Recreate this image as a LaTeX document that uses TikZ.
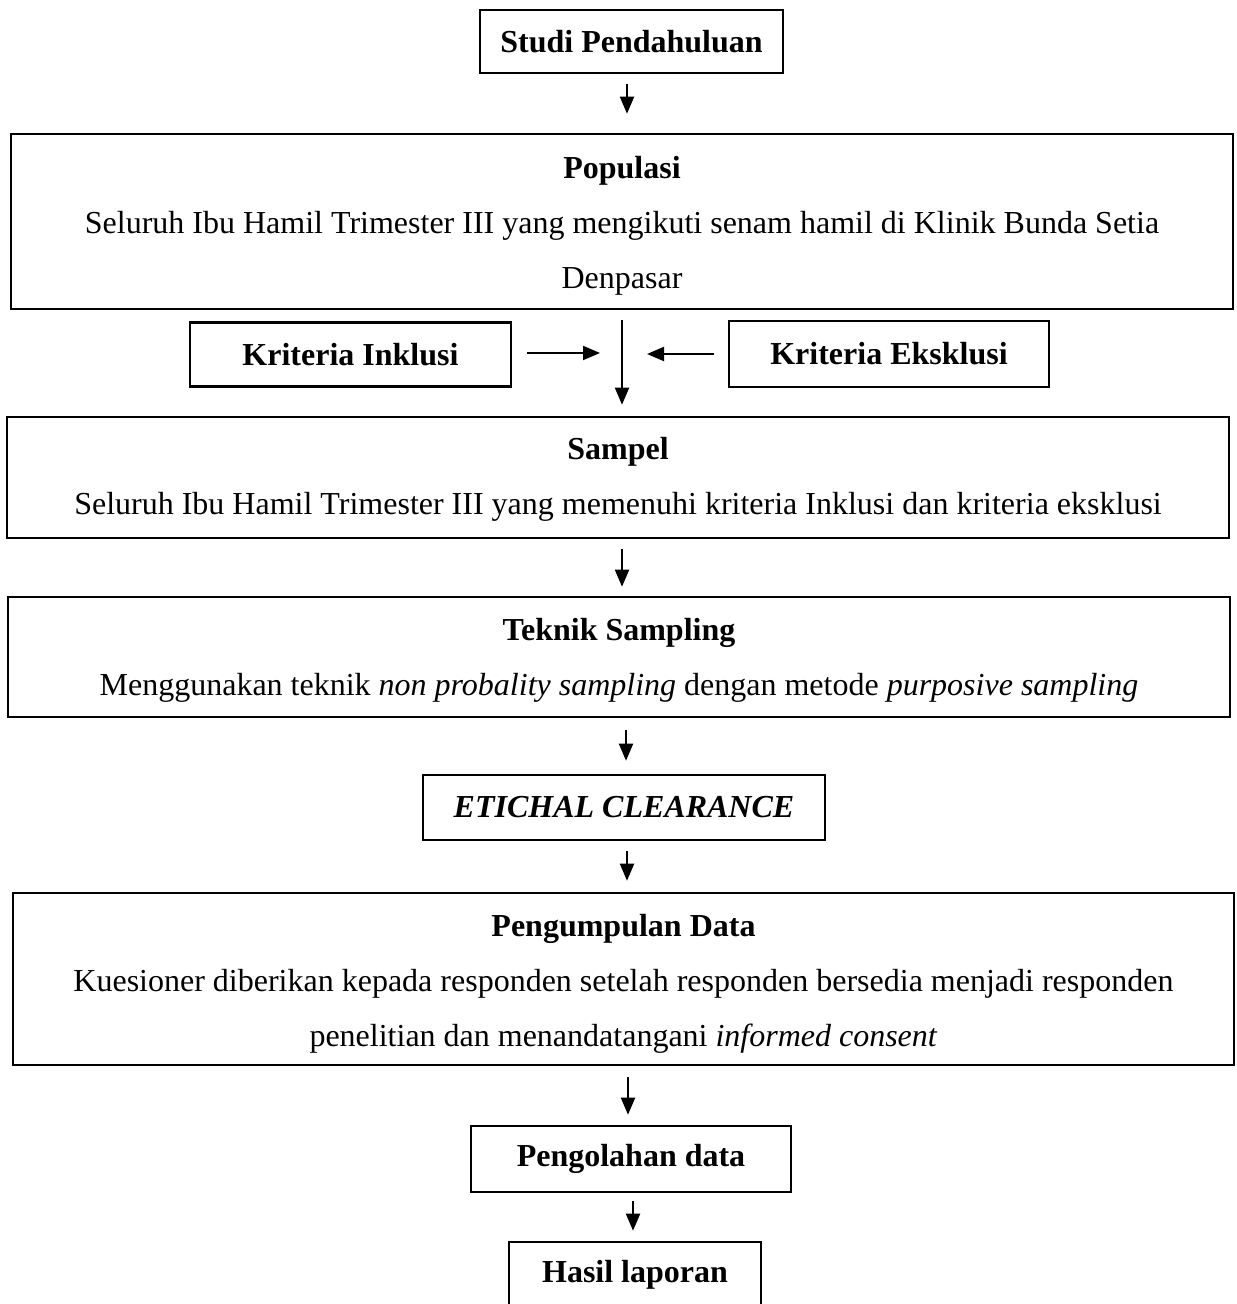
\documentclass[tikz,border=0pt]{standalone}
\usepackage{fontspec}
\setmainfont{Liberation Serif}
\usetikzlibrary{arrows.meta,positioning,calc}
\newcommand{\padtop}[1]{\rule{0pt}{#1}}

\begin{document}
\begin{tikzpicture}[x=0.5pt, y=-0.5pt,
  box/.style={draw, rectangle, line width=1.3pt, inner sep=0pt, align=center, font=\fontsize{16}{27.5}\selectfont},
  flow/.style={-{Triangle[length=8.5pt,width=7pt]}, line width=1pt, shorten <=5pt, shorten >=5pt}]
\useasboundingbox (0,0) rectangle (1236,1304);
% boxes
\node[box, minimum width=151.5pt, minimum height=31.5pt] (studi) at (631.5,41.5) {\textbf{Studi Pendahuluan}};
\node[box, minimum width=611pt, minimum height=87.5pt] (populasi) at (622,221.5) {\padtop{15.5pt}\textbf{Populasi}\\Seluruh Ibu Hamil Trimester III yang mengikuti senam hamil di Klinik Bunda Setia\\Denpasar};
\node[box, minimum width=160.5pt, minimum height=32pt] (inklusi) at (350.5,354.5) {\textbf{Kriteria Inklusi}};
\node[box, minimum width=160pt, minimum height=33pt] (eksklusi) at (889,354) {\textbf{Kriteria Eksklusi}};
\node[box, minimum width=611pt, minimum height=60.5pt] (sampel) at (618,477.5) {\padtop{13pt}\textbf{Sampel}\\Seluruh Ibu Hamil Trimester III yang memenuhi kriteria Inklusi dan kriteria eksklusi};
\node[box, minimum width=611pt, minimum height=60pt] (teknik) at (619,657) {\padtop{14pt}\textbf{Teknik Sampling}\\Menggunakan teknik \textit{non probality sampling} dengan metode \textit{purposive sampling}};
\node[box, minimum width=201pt, minimum height=32.5pt] (etik) at (624,807.5) {\textbf{\textit{ETICHAL CLEARANCE}}};
\node[box, minimum width=610.5pt, minimum height=86pt] (kumpul) at (623.5,979) {\padtop{16pt}\textbf{Pengumpulan Data}\\Kuesioner diberikan kepada responden setelah responden bersedia menjadi responden\\penelitian dan menandatangani \textit{informed consent}};
\node[box, minimum width=160pt, minimum height=33pt] (olah) at (631,1159) {\textbf{Pengolahan data}};
\node[box, minimum width=126pt, minimum height=33pt] (hasil) at (635,1275) {\textbf{Hasil laporan}};
% arrows
\draw[flow, shorten >=9.5pt] ([xshift=-2.25pt]studi.south) -- ([xshift=-2.25pt]studi.south |- populasi.north);
\draw[flow, shorten >=5.5pt] (populasi.south) -- (populasi.south |- sampel.north);
\draw[flow, shorten <=7.5pt, shorten >=11pt] ([yshift=0.75pt]inklusi.east) -- ([yshift=0.75pt]inklusi.east -| populasi.south);
\draw[flow, shorten <=7pt, shorten >=12.5pt] (eksklusi.west) -- (eksklusi.west -| populasi.south);
\draw[flow, shorten >=4.5pt] ([xshift=2pt]sampel.south) -- ([xshift=2pt]sampel.south |- teknik.north);
\draw[flow, shorten <=6pt, shorten >=6.5pt] ([xshift=3.5pt]teknik.south) -- ([xshift=3.5pt]teknik.south |- etik.north);
\draw[flow, shorten >=5.5pt] ([xshift=1.5pt]etik.south) -- ([xshift=1.5pt]etik.south |- kumpul.north);
\draw[flow, shorten <=5.5pt] ([xshift=2.25pt]kumpul.south) -- ([xshift=2.25pt]kumpul.south |- olah.north);
\draw[flow, shorten <=4pt] ([xshift=1pt]olah.south) -- ([xshift=1pt]olah.south |- hasil.north);
\end{tikzpicture}
\end{document}
